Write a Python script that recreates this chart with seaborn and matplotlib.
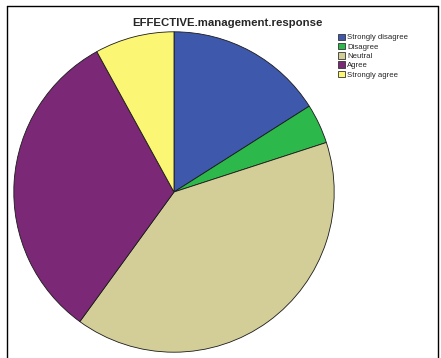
import matplotlib
matplotlib.use("Agg")
import matplotlib.pyplot as plt
from matplotlib.patches import Patch
from matplotlib.lines import Line2D
import seaborn as sns

sns.set_style("white")
plt.rcParams['font.family'] = ['Liberation Sans', 'DejaVu Sans']

title = "EFFECTIVE.management.response"
categories = ["Strongly disagree", "Disagree", "Neutral", "Agree", "Strongly agree"]
counts = [4, 1, 10, 8, 2]
colors = ["#3e58ac", "#2db84b", "#d3ce97", "#7b2877", "#fbf774"]

W, H = 441, 358
fig = plt.figure(figsize=(W / 100, H / 100), dpi=100)

# square axes holding the pie (pixel box 13..335 x 31..353)
ax = fig.add_axes([13 / W, (H - 353) / H, 322 / W, 322 / H])
ax.pie(counts, colors=colors, startangle=90, counterclock=False, radius=1,
       wedgeprops=dict(edgecolor="#1a1a1a", linewidth=0.6))
ax.set_xlim(-1.005, 1.005)
ax.set_ylim(-1.005, 1.005)
ax.set_axis_off()

fig.text(227 / W, 1 - 23.5 / H, title, ha="center", va="center",
         fontsize=8.2, fontweight="bold")

handles = [Patch(facecolor=c, edgecolor="#333333", linewidth=0.6) for c in colors]
fig.legend(handles, categories, loc="upper left",
           bbox_to_anchor=(338 / W, 1 - 33.5 / H), frameon=False,
           fontsize=5.6, handlelength=0.9, handleheight=0.9,
           handletextpad=0.25, labelspacing=0.18, borderaxespad=0,
           borderpad=0)

# outer frame
for (x0, y0, x1, y1) in [(7, 6, 438, 6), (7, 6, 7, 360), (438, 6, 438, 360)]:
    fig.add_artist(Line2D([x0 / W, x1 / W], [1 - y0 / H, 1 - y1 / H],
                          color="black", linewidth=1.0))

fig.savefig("out.png", dpi=100)
